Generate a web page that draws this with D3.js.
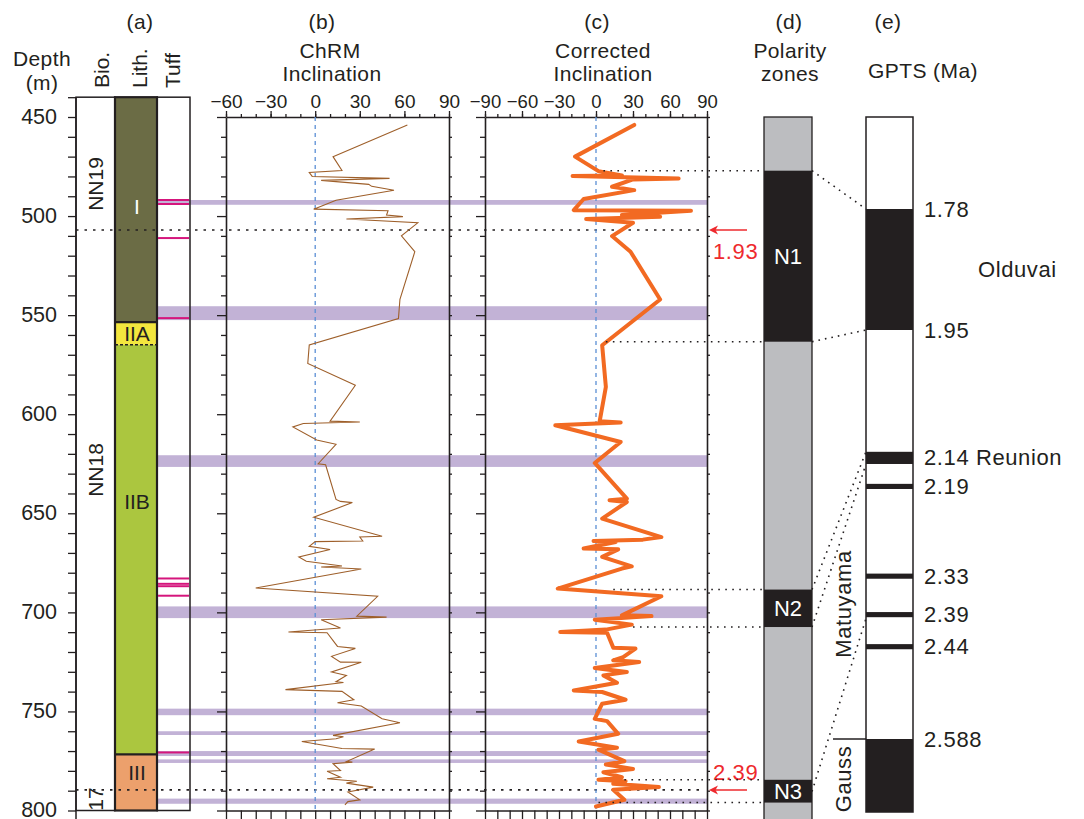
<!DOCTYPE html>
<html>
<head>
<meta charset="utf-8">
<script src="https://cdn.jsdelivr.net/npm/d3@7"></script>
<style>
  body { margin: 0; background: #fff; }
  svg text { font-family: "Liberation Sans", Arial, sans-serif; }
</style>
</head>
<body>
<div class="chart"></div>
<script>
var svgWidth = 1084;
var svgHeight = 819;
var ink = "#231f20";

// Data
// ==============================
var depthTicks = d3.range(440, 801, 10);
var bioNames = ["NN19", "NN18", "17"];
var bioTops = [440, 507, 789.6];
var bioBases = [507, 789.6, 800];

var lithNames = ["I", "IIA", "IIB", "III"];
var lithTops = [440, 553.5, 565, 771.7];
var lithBases = [553.5, 565, 771.7, 800];
var lithColors = ["#6b6c45", "#f3e63e", "#abc63f", "#eca06c"];
var lithContactDashed = [false, true, false];

var tuffDepths = [491.9, 493.9, 511.1, 551.5, 682.9, 685.6, 686.8, 691.6, 770.7];

var bandTops = [491.9, 545.5, 620.7, 697, 748.6, 760, 770, 774.2, 794];
var bandBases = [494.3, 552.5, 626.6, 702.9, 751.9, 761.9, 772.5, 776, 796.6];

// [depth (m), ChRM inclination (deg)]
var chrmData = [[454,62],[470,12],[477,18],[478,-4],[480,-2],[481,50],[482,4],[484,36],[485,38],[487,53],
  [492,14],[496.5,-1],[497.3,49],[499.5,48],[500.3,59],[501.5,21],[503.4,69],[510,58],[518,67],[542,57],
  [551.7,56],[565,-4],[574.4,-5],[585.4,27],[603.5,10],[603.9,30],[604.7,-8],[606.4,-15],[613,1],[615.2,14],
  [625,2],[625.5,7],[643,14],[644,17],[644.6,25],[652,-1],[661.6,45],[662,30],[664,32],[664.3,0],
  [666.7,-4],[668.3,10],[672,-11],[674.2,-6],[676.6,18],[677.1,4],[678.1,31],[687.7,-40],[691.9,42],[701.9,28],
  [702.4,48],[703.7,4],[707.9,17],[709.9,-18],[710.3,8],[717.2,15],[718.2,27],[722.2,11],[725.1,17],[725.2,31],
  [730.1,11],[731.8,21],[735,14],[735.4,19],[739,-20],[739.9,18],[744.1,26],[745.6,15],[747.3,31],[753.7,45],
  [755.7,57],[762.1,12],[762.8,19],[763.8,14],[765.2,-9],[768.7,18],[769,40],[775.3,21],[775.6,25],[776.4,12],
  [779.8,17],[780.2,8],[783.2,17],[784,8],[785.2,28],[786.2,21],[788.2,39],[790.7,22],[794.6,30],[795.5,22],
  [797.1,20]];

// [depth (m), corrected inclination (deg)]
var corrData = [[454,31],[470,-17],[477.3,2],[479.5,21],[479.8,-19],[481,67],[481.5,30],[485.2,13],[486.9,31],[491.4,-10],
  [497,-18],[497.3,77],[499.5,21],[500.3,52],[501.5,-8],[503.4,30],[510.1,13],[518,28],[542.1,52],[565.2,5],
  [586.2,8],[603.5,3],[604.2,20],[605.6,-33],[614,20],[624.6,-1],[642.6,25],[643.4,11],[644.3,25],[652.7,5],
  [662,53],[663.3,38],[664,-2],[664.5,16],[667.8,-10],[668.2,18],[672,5],[676.8,29],[677.9,21],[688,-31],
  [691.9,53],[701.5,21],[701.9,45],[703.7,-1],[706.2,29],[708.7,8],[709.9,-29],[710.3,9],[717.8,14],[718.3,32],
  [722.6,22],[724.2,14],[725.1,35],[728.1,-1],[730.1,25],[731.8,6],[735.5,17],[739.4,-18],[740.2,5],[744.1,24],
  [746.1,5],[753.7,-1],[754.9,9],[761.3,18],[765.2,-14],[768.3,17],[769.3,2],[775.1,23],[776.8,8],[779,30],
  [780.7,6],[783.2,21],[784.5,2],[785.2,24],[786.5,14],[788.2,51],[789.5,14],[794.6,23],[798,0]];

var zoneNames = ["N1", "N2", "N3"];
var zoneTops = [477.1, 688.5, 784.5];
var zoneBases = [563.4, 707.4, 796];
// inclination where the dotted zone lines start in panel (c)
var zoneTopStart = [6, 14, 23];
var zoneBaseStart = [8, 30, 2];

var gptsNormalTops = [1.78, 2.14, 2.19, 2.33, 2.39, 2.44, 2.588];
var gptsNormalBases = [1.95, 2.159, 2.198, 2.338, 2.398, 2.448, 2.70];
var gptsLabels = ["1.78", "1.95", "2.14 Reunion", "2.19", "2.33", "2.39", "2.44", "2.588"];
var gptsLabelAges = [1.78, 1.95, 2.149, 2.194, 2.334, 2.394, 2.444, 2.588];

var tieDepths = [477.1, 563.4, 688.5, 707.4, 790.4];
var tieAges = [1.78, 1.95, 2.14, 2.159, 2.40];

var ageMarkDepths = [507, 789.6];
var ageMarkLabels = ["1.93", "2.39"];

var bTicks = [-60, -30, 0, 30, 60, 90];
var cTicks = [-90, -60, -30, 0, 30, 60, 90];

// SVG and scales
// ==============================
var svg = d3.select(".chart")
  .append("svg")
  .attr("width", svgWidth)
  .attr("height", svgHeight);

var yDepth = d3.scaleLinear().domain([450, 800]).range([117, 810.5]);
var xB = d3.scaleLinear().domain([-60, 90]).range([226, 449]);
var xC = d3.scaleLinear().domain([-90, 90]).range([485, 707]);
var yAge = d3.scaleLinear()
  .domain([1.64, 1.78, 1.95, 2.588, 2.70])
  .range([117, 209, 330, 739, 812]);

var bio = [76, 115], lith = [115, 157], tuff = [157, 190];
var pol = [764, 812], gpts = [866, 913];

function dotted(x1, y1, x2, y2, dash) {
  svg.append("line")
    .attr("x1", x1).attr("y1", y1).attr("x2", x2).attr("y2", y2)
    .attr("stroke", ink)
    .attr("stroke-width", 1.6)
    .attr("stroke-dasharray", dash || "1.6,5.4");
}

// Purple bands
// ==============================
svg.selectAll(".band")
  .data(d3.range(bandTops.length))
  .enter()
  .append("rect")
  .attr("x", tuff[0])
  .attr("width", xC.range()[1] - tuff[0])
  .attr("y", i => yDepth(bandTops[i]))
  .attr("height", i => yDepth(bandBases[i]) - yDepth(bandTops[i]))
  .attr("fill", "#c2b2d6");

// Column (a): bio, lith, tuff
// ==============================
svg.selectAll(".lith")
  .data(d3.range(lithNames.length))
  .enter()
  .append("rect")
  .attr("x", lith[0])
  .attr("width", lith[1] - lith[0])
  .attr("y", i => yDepth(lithTops[i]))
  .attr("height", i => yDepth(lithBases[i]) - yDepth(lithTops[i]))
  .attr("fill", i => lithColors[i]);

lithContactDashed.forEach(function(dash, i) {
  svg.append("line")
    .attr("x1", lith[0]).attr("x2", lith[1])
    .attr("y1", yDepth(lithBases[i])).attr("y2", yDepth(lithBases[i]))
    .attr("stroke", ink)
    .attr("stroke-width", dash ? 1.5 : 2.2)
    .attr("stroke-dasharray", dash ? "3,2" : null);
});

[bio, lith, tuff].forEach(function(c, i) {
  svg.append("rect")
    .attr("x", c[0]).attr("width", c[1] - c[0])
    .attr("y", yDepth(440)).attr("height", yDepth(800) - yDepth(440))
    .attr("fill", "none")
    .attr("stroke", ink)
    .attr("stroke-width", i === 1 ? 2.2 : 1.5);
});

svg.selectAll(".tuffline")
  .data(tuffDepths)
  .enter()
  .append("line")
  .attr("x1", tuff[0] + 1).attr("x2", tuff[1] - 1)
  .attr("y1", d => yDepth(d)).attr("y2", d => yDepth(d))
  .attr("stroke", "#d5157c")
  .attr("stroke-width", 2);

// label centres (px) for units whose label is not mid-unit
var lithLabelY = [207, null, 502, 773];
lithNames.forEach(function(name, i) {
  svg.append("text")
    .attr("x", (lith[0] + lith[1]) / 2 + 1)
    .attr("y", lithLabelY[i] || (yDepth(lithTops[i]) + yDepth(lithBases[i])) / 2)
    .attr("dy", "0.35em")
    .attr("text-anchor", "middle")
    .attr("font-size", 21)
    .attr("fill", i === 0 ? "#fff" : ink)
    .text(name);
});

bioNames.forEach(function(name, i) {
  var cy = i === 1 ? 470 : (i === 0 ? 184 : 799);
  svg.append("text")
    .attr("transform", `translate(96, ${cy}) rotate(-90)`)
    .attr("dy", "0.35em")
    .attr("text-anchor", "middle")
    .attr("font-size", 21)
    .attr("fill", ink)
    .text(name);
});

// bio boundaries, carried across panels b and c
bioBases.slice(0, 2).forEach(function(d) {
  dotted(bio[0], yDepth(d), xC.range()[1] - 2, yDepth(d), "2.5,6");
});

// Depth axis
// ==============================
svg.append("line")
  .attr("x1", bio[0]).attr("x2", bio[0])
  .attr("y1", yDepth(440)).attr("y2", svgHeight)
  .attr("stroke", ink).attr("stroke-width", 1.5);

var depthAxis = svg.append("g")
  .attr("transform", `translate(${bio[0]}, 0)`)
  .style("color", ink)
  .call(d3.axisLeft(yDepth).tickValues(depthTicks).tickSize(8).tickPadding(11)
    .tickFormat(d => d % 50 ? "" : d));
depthAxis.select(".domain").remove();
depthAxis.selectAll("line").attr("stroke-width", 1.3);
depthAxis.selectAll("text")
  .attr("font-size", 21.5)
  .attr("font-family", null)
  .attr("fill", ink)
  .attr("dy", "0.3em");

// Inclination panels (b) and (c)
// ==============================
function panel(x, majors, fontSize) {
  var left = x.range()[0], right = x.range()[1];
  var top = yDepth(450), bottom = yDepth(800);
  var minors = d3.range(x.domain()[0], x.domain()[1] + 1, 10);

  var gTop = svg.append("g").attr("transform", `translate(0, ${top})`).style("color", ink)
    .call(d3.axisTop(x).tickValues(minors).tickSize(3).tickSizeOuter(0).tickFormat(""));
  gTop.select(".domain").attr("stroke-width", 1.6);

  var gLab = svg.append("g").attr("transform", `translate(0, ${top})`).style("color", ink)
    .call(d3.axisTop(x).tickValues(majors).tickSize(6).tickPadding(3).tickSizeOuter(0));
  gLab.select(".domain").remove();
  gLab.selectAll("text").attr("font-size", fontSize).attr("font-family", null).attr("fill", ink);

  var gBot = svg.append("g").attr("transform", `translate(0, ${bottom})`).style("color", ink)
    .call(d3.axisBottom(x).tickValues(minors).tickSize(9).tickSizeOuter(0).tickFormat(""));
  gBot.select(".domain").attr("stroke-width", 1.6);

  var dMinor = d3.range(450, 801, 10).filter(d => d % 50);
  var dMajor = d3.range(450, 801, 50);
  var gL1 = svg.append("g").attr("transform", `translate(${left}, 0)`).style("color", ink)
    .call(d3.axisLeft(yDepth).tickValues(dMinor).tickSize(5).tickSizeOuter(0).tickFormat(""));
  gL1.select(".domain").attr("stroke-width", 1.6);
  svg.append("g").attr("transform", `translate(${left}, 0)`).style("color", ink)
    .call(d3.axisLeft(yDepth).tickValues(dMajor).tickSize(9).tickSizeOuter(0).tickFormat(""))
    .select(".domain").remove();

  var gR = svg.append("g").attr("transform", `translate(${right}, 0)`).style("color", ink)
    .call(d3.axisRight(yDepth).tickValues(d3.range(450, 801, 10)).tickSize(3).tickSizeOuter(0).tickFormat(""));
  gR.select(".domain").attr("stroke-width", 1.6);

  svg.selectAll("g .tick line").attr("stroke-width", 1.3);

  svg.append("line")
    .attr("x1", x(0)).attr("x2", x(0))
    .attr("y1", top).attr("y2", bottom)
    .attr("stroke", "#5b8fd5")
    .attr("stroke-width", 1.3)
    .attr("stroke-dasharray", "4,4");
}

panel(xB, bTicks, 19);
panel(xC, cTicks, 18.5);

var lineB = d3.line().x(d => xB(d[1])).y(d => yDepth(d[0]));
var lineC = d3.line().x(d => xC(d[1])).y(d => yDepth(d[0]));

svg.append("path")
  .datum(chrmData)
  .attr("d", lineB)
  .attr("fill", "none")
  .attr("stroke", "#9e5f2a")
  .attr("stroke-width", 1.1);

svg.append("path")
  .datum(corrData)
  .attr("d", lineC)
  .attr("fill", "none")
  .attr("stroke", "#f26a22")
  .attr("stroke-width", 4)
  .attr("stroke-linejoin", "round")
  .attr("stroke-linecap", "round");

// Red age marks
// ==============================
ageMarkDepths.forEach(function(d, i) {
  var y = yDepth(d);
  svg.append("line")
    .attr("x1", 747).attr("x2", 714)
    .attr("y1", y).attr("y2", y)
    .attr("stroke", "#ee2a2e").attr("stroke-width", 1.5);
  svg.append("path")
    .attr("d", `M709,${y} L718,${y - 4.5} L715.5,${y} L718,${y + 4.5} Z`)
    .attr("fill", "#ee2a2e");
  svg.append("text")
    .attr("x", 713)
    .attr("y", y + (i === 0 ? 21 : -18))
    .attr("dy", "0.35em")
    .attr("font-size", 22)
    .attr("letter-spacing", 0.6)
    .attr("fill", "#ee2a2e")
    .text(ageMarkLabels[i]);
});

// Panel (d): polarity zones
// ==============================
svg.append("rect")
  .attr("x", pol[0]).attr("width", pol[1] - pol[0])
  .attr("y", yDepth(450)).attr("height", svgHeight + 10 - yDepth(450))
  .attr("fill", "#bcbdc0")
  .attr("stroke", ink).attr("stroke-width", 1.3);

svg.selectAll(".zone")
  .data(d3.range(zoneNames.length))
  .enter()
  .append("rect")
  .attr("x", pol[0]).attr("width", pol[1] - pol[0])
  .attr("y", i => yDepth(zoneTops[i]))
  .attr("height", i => yDepth(zoneBases[i]) - yDepth(zoneTops[i]))
  .attr("fill", ink);

zoneNames.forEach(function(name, i) {
  svg.append("text")
    .attr("x", (pol[0] + pol[1]) / 2)
    .attr("y", (yDepth(zoneTops[i]) + yDepth(zoneBases[i])) / 2)
    .attr("dy", "0.35em")
    .attr("text-anchor", "middle")
    .attr("font-size", 22)
    .attr("fill", "#fff")
    .text(name);
  dotted(xC(zoneTopStart[i]), yDepth(zoneTops[i]), pol[0], yDepth(zoneTops[i]));
  dotted(xC(zoneBaseStart[i]), yDepth(zoneBases[i]), pol[0], yDepth(zoneBases[i]));
});

// Panel (e): GPTS
// ==============================
svg.append("rect")
  .attr("x", gpts[0]).attr("width", gpts[1] - gpts[0])
  .attr("y", yAge(1.64)).attr("height", yAge(2.70) - yAge(1.64))
  .attr("fill", "#fff")
  .attr("stroke", ink).attr("stroke-width", 1.5);

svg.selectAll(".chron")
  .data(d3.range(gptsNormalTops.length))
  .enter()
  .append("rect")
  .attr("x", gpts[0]).attr("width", gpts[1] - gpts[0])
  .attr("y", i => yAge(gptsNormalTops[i]))
  .attr("height", i => yAge(gptsNormalBases[i]) - yAge(gptsNormalTops[i]))
  .attr("fill", ink);

gptsLabels.forEach(function(lab, i) {
  svg.append("text")
    .attr("x", 924)
    .attr("y", yAge(gptsLabelAges[i]))
    .attr("dy", "0.35em")
    .attr("font-size", 22)
    .attr("letter-spacing", 0.6)
    .attr("fill", ink)
    .text(lab);
});

svg.append("text")
  .attr("x", 978)
  .attr("y", yAge((1.78 + 1.95) / 2))
  .attr("dy", "0.35em")
  .attr("font-size", 22)
  .attr("letter-spacing", 0.6)
  .attr("fill", ink)
  .text("Olduvai");

svg.append("line")
  .attr("x1", 833).attr("x2", gpts[0])
  .attr("y1", yAge(2.588)).attr("y2", yAge(2.588))
  .attr("stroke", ink).attr("stroke-width", 1.5);

[["Matuyama", 604], ["Gauss", 779]].forEach(function(t) {
  svg.append("text")
    .attr("transform", `translate(843, ${t[1]}) rotate(-90)`)
    .attr("dy", "0.35em")
    .attr("text-anchor", "middle")
    .attr("font-size", 22)
    .attr("letter-spacing", 0.6)
    .attr("fill", ink)
    .text(t[0]);
});

// tie lines between polarity zones and GPTS
tieDepths.forEach(function(d, i) {
  dotted(pol[1], yDepth(d), gpts[0], yAge(tieAges[i]), "1.6,5");
});

// Headers
// ==============================
function label(x, y, txt, size) {
  svg.append("text")
    .attr("x", x).attr("y", y)
    .attr("dy", "0.35em")
    .attr("text-anchor", "middle")
    .attr("font-size", size || 21)
    .attr("letter-spacing", 0.4)
    .attr("fill", ink)
    .text(txt);
}

label(140, 22, "(a)");
label(322, 22, "(b)");
label(597, 22, "(c)");
label(789, 22, "(d)");
label(888, 22, "(e)");
label(42, 59, "Depth");
label(42, 83, "(m)");
label(330, 51, "ChRM");
label(332, 74, "Inclination");
label(603, 51, "Corrected");
label(603, 74, "Inclination");
label(790, 51, "Polarity");
label(790, 74, "zones");
label(923, 71, "GPTS (Ma)");

[["Bio.", 102], ["Lith.", 140], ["Tuff", 173]].forEach(function(t) {
  svg.append("text")
    .attr("transform", `translate(${t[1]}, 88) rotate(-90)`)
    .attr("dy", "0.35em")
    .attr("font-size", 21)
    .attr("fill", ink)
    .text(t[0]);
});
</script>
</body>
</html>
